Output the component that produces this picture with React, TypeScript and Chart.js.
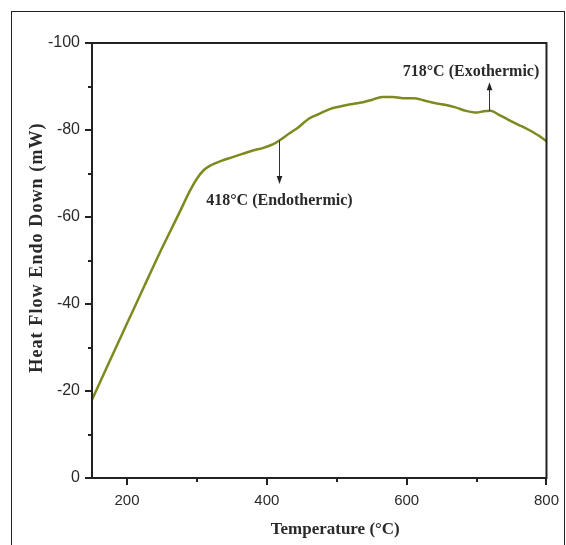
import React, { useEffect, useRef } from 'react';
import { Chart, registerables } from 'chart.js';

Chart.register(...registerables);

const temperatures = [150, 175, 200, 225, 250, 275, 290, 300, 310, 320, 335, 350, 365, 380, 395, 410, 420, 432, 445, 460, 475, 490, 505, 520, 535, 550, 565, 580, 595, 610, 625, 640, 655, 670, 685, 700, 710, 720, 732, 745, 760, 775, 790, 800];
const heatFlow = [-18.0, -26.8, -35.5, -44.2, -52.8, -61.0, -66.0, -68.8, -70.8, -71.9, -72.9, -73.7, -74.5, -75.3, -75.9, -76.8, -77.8, -79.2, -80.6, -82.6, -83.7, -84.8, -85.4, -85.9, -86.3, -86.9, -87.6, -87.6, -87.3, -87.3, -86.8, -86.2, -85.8, -85.2, -84.4, -84.0, -84.3, -84.4, -83.5, -82.4, -81.2, -80.0, -78.6, -77.4];

const xTickValues = [200, 300, 400, 500, 600, 700, 800];
const xLabelValues = [200, 400, 600, 800];
const yTickValues = [-100, -90, -80, -70, -60, -50, -40, -30, -20, -10, 0];
const yLabelValues = [-100, -80, -60, -40, -20, 0];

const xTitle = 'Temperature (°C)';
const yTitle = 'Heat Flow Endo Down (mW)';

const annotationTemps = [418, 718];
const annotationFrom = [-77.6, -84.4];
const annotationTo = [-67.6, -91.0];
const annotationLabels = ['418°C (Endothermic)', '718°C (Exothermic)'];
const annotationLabelX = [418, 692];
const annotationLabelY = [-63.6, -93.4];

const LINE_COLOR = '#7e8a1e';
const AXIS_COLOR = '#222222';
const TEXT_COLOR = '#2a2a2a';
const SERIF = "'Liberation Serif', 'Times New Roman', serif";
const SANS = "'Liberation Sans', Arial, sans-serif";

const decorPlugin = {
  id: 'decor',
  afterDraw(chart: any) {
    const { ctx, chartArea, scales } = chart;
    const xs = scales.x;
    const ys = scales.y;
    ctx.save();
    ctx.strokeStyle = AXIS_COLOR;
    ctx.lineWidth = 2;
    ctx.strokeRect(chartArea.left, chartArea.top, chartArea.right - chartArea.left, chartArea.bottom - chartArea.top);
    ctx.beginPath();
    xs.ticks.forEach((t: any) => {
      const px = Math.round(xs.getPixelForValue(t.value));
      const len = xLabelValues.includes(t.value) ? 7 : 4;
      ctx.moveTo(px, chartArea.bottom);
      ctx.lineTo(px, chartArea.bottom + len);
    });
    ys.ticks.forEach((t: any) => {
      const py = Math.round(ys.getPixelForValue(t.value));
      const len = yLabelValues.includes(t.value) ? 7 : 4;
      ctx.moveTo(chartArea.left, py);
      ctx.lineTo(chartArea.left - len, py);
    });
    ctx.stroke();

    ctx.strokeStyle = '#333333';
    ctx.fillStyle = '#222222';
    ctx.lineWidth = 1;
    annotationTemps.forEach((t, i) => {
      const px = Math.round(xs.getPixelForValue(t)) + 0.5;
      const y0 = ys.getPixelForValue(annotationFrom[i]);
      const y1 = ys.getPixelForValue(annotationTo[i]);
      const dir = y1 > y0 ? 1 : -1;
      ctx.beginPath();
      ctx.moveTo(px, y0);
      ctx.lineTo(px, y1 - dir * 6);
      ctx.stroke();
      ctx.beginPath();
      ctx.moveTo(px, y1);
      ctx.lineTo(px - 2.8, y1 - dir * 8);
      ctx.lineTo(px + 2.8, y1 - dir * 8);
      ctx.closePath();
      ctx.fill();
    });
    ctx.font = `bold 16px ${SERIF}`;
    ctx.textAlign = 'center';
    ctx.textBaseline = 'middle';
    ctx.fillStyle = TEXT_COLOR;
    annotationLabels.forEach((lbl, i) => {
      ctx.fillText(lbl, xs.getPixelForValue(annotationLabelX[i]), ys.getPixelForValue(annotationLabelY[i]));
    });

    ctx.font = `bold 17px ${SERIF}`;
    ctx.fillText(xTitle, (chartArea.left + chartArea.right) / 2 + 16, 530);
    ctx.save();
    ctx.translate(37, (chartArea.top + chartArea.bottom) / 2 - 13);
    ctx.rotate(-Math.PI / 2);
    (ctx as any).letterSpacing = '1.1px';
    ctx.font = `bold 18px ${SERIF}`;
    ctx.fillText(yTitle, 0, 0);
    ctx.restore();
    ctx.restore();
  },
};

export default function App() {
  const ref = useRef<HTMLCanvasElement>(null);
  useEffect(() => {
    const canvas = ref.current;
    if (!canvas) return;
    const chart = new Chart(canvas, {
      type: 'line',
      data: {
        datasets: [
          {
            data: temperatures.map((t, i) => ({ x: t, y: heatFlow[i] })),
            borderColor: LINE_COLOR,
            borderWidth: 2.5,
            pointRadius: 0,
            cubicInterpolationMode: 'monotone',
            fill: false,
          },
        ],
      },
      options: {
        responsive: false,
        maintainAspectRatio: false,
        animation: false,
        layout: { padding: { top: 43, right: 14, bottom: 0, left: 0 } },
        plugins: { legend: { display: false }, tooltip: { enabled: false } },
        scales: {
          x: {
            type: 'linear',
            min: 150,
            max: 800,
            afterBuildTicks: (s: any) => {
              s.ticks = xTickValues.map((v) => ({ value: v }));
            },
            afterFit: (s: any) => {
              s.height = 67;
            },
            ticks: {
              autoSkip: false,
              maxRotation: 0,
              padding: 7,
              color: TEXT_COLOR,
              font: { family: SANS, size: 15 },
              callback: (v: any) => (xLabelValues.includes(v) ? String(v) : ''),
            },
            grid: { drawOnChartArea: false, tickLength: 7, color: 'transparent' },
            border: { display: false },
          },
          y: {
            type: 'linear',
            min: -100,
            max: 0,
            reverse: true,
            afterBuildTicks: (s: any) => {
              s.ticks = yTickValues.map((v) => ({ value: v }));
            },
            afterFit: (s: any) => {
              s.width = 92;
            },
            ticks: {
              autoSkip: false,
              padding: 5,
              color: TEXT_COLOR,
              font: { family: SANS, size: 16 },
              callback: (v: any) => (yLabelValues.includes(v) ? String(v) : ''),
            },
            grid: { drawOnChartArea: false, tickLength: 7, color: 'transparent' },
            border: { display: false },
          },
        },
      },
      plugins: [decorPlugin],
    } as any);
    return () => chart.destroy();
  }, []);

  return (
    <div style={{ position: 'absolute', left: 0, top: 0, width: 566, height: 545, background: '#fff', overflow: 'hidden' }}>
      <div
        style={{
          position: 'absolute',
          left: 11,
          top: 11,
          width: 554,
          height: 600,
          border: '1.5px solid #222',
          boxSizing: 'border-box',
        }}
      />
      <canvas ref={ref} width={566} height={545} style={{ position: 'absolute', left: 0, top: 0 }} />
    </div>
  );
}
